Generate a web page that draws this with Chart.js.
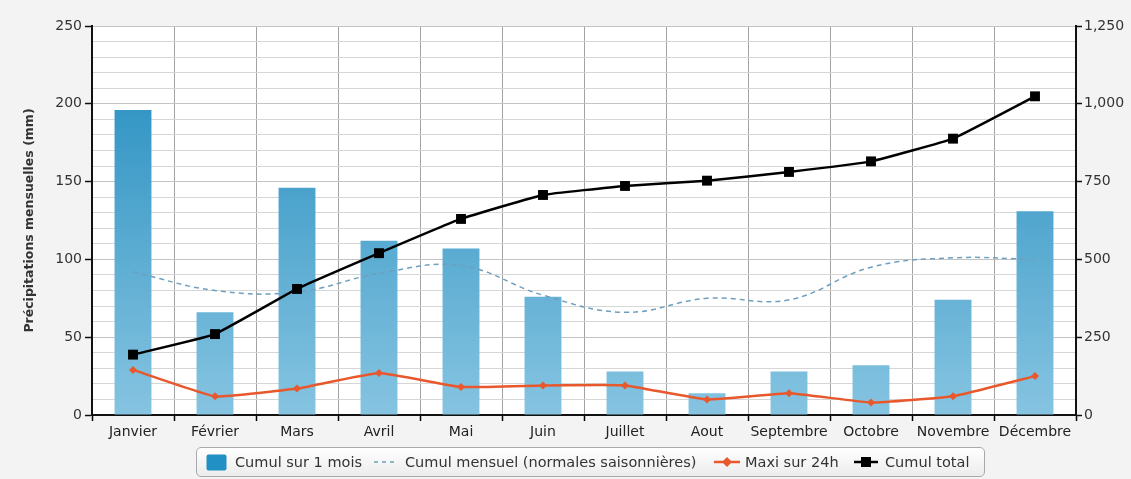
<!DOCTYPE html>
<html lang="fr">
<head>
<meta charset="utf-8">
<title>Précipitations mensuelles</title>
<script src="https://cdn.jsdelivr.net/npm/chart.js@4.4.1/dist/chart.umd.min.js"></script>
<style>
  html, body { margin: 0; padding: 0; background: #f3f3f3; }
  #wrap { position: relative; width: 1131px; height: 479px; overflow: hidden; }
  #chart { position: absolute; left: 0; top: 0; }
  #legend {
    position: absolute; left: 196px; top: 447px; width: 789px; height: 30px;
    box-sizing: border-box; border: 1px solid #a9a9a9; border-radius: 5px;
    background: linear-gradient(#ffffff, #ececec);
    font-family: "DejaVu Sans", sans-serif; font-size: 14.5px; color: #333;
    white-space: nowrap;
  }
  .sym, .txt { position: absolute; top: 0; height: 28px; display: flex; align-items: center; }
</style>
</head>
<body>
<div id="wrap">
  <canvas id="chart" width="1131" height="479"></canvas>
  <div id="legend"></div>
</div>
<script>
// Monthly rainfall (mm)
const months = ['Janvier', 'Février', 'Mars', 'Avril', 'Mai', 'Juin', 'Juillet', 'Aout', 'Septembre', 'Octobre', 'Novembre', 'Décembre'];
const cumulMois = [196, 66, 146, 112, 107, 76, 28, 14, 28, 32, 74, 131];
const normales = [92, 80, 79, 91, 96, 77, 66, 75, 74, 95, 101, 100];
const maxi24h = [29, 12, 17, 27, 18, 19, 19, 10, 14, 8, 12, 25];
const cumulTotal = [194, 260, 405, 520, 630, 707, 736, 753, 781, 815, 888, 1024];

const leftTicks = [0, 50, 100, 150, 200, 250];
const rightTicks = [0, 250, 500, 750, 1000, 1250];

const FONT = '"DejaVu Sans", sans-serif';
const BLUE_DARK = '#1f8abd';
const BLUE_LIGHT = '#86c4e1';
const DASH_COLOR = '#6f9fbf';
const ORANGE = '#e8582c';

function barGradient(ctx) {
  const area = ctx.chart.chartArea;
  if (!area) return BLUE_DARK;
  const g = ctx.chart.ctx.createLinearGradient(0, area.top, 0, area.bottom);
  g.addColorStop(0, BLUE_DARK);
  g.addColorStop(1, BLUE_LIGHT);
  return g;
}

const plotBackground = {
  id: 'plotBackground',
  beforeDraw(chart) {
    const { ctx, chartArea: a } = chart;
    ctx.save();
    ctx.fillStyle = '#ffffff';
    ctx.fillRect(a.left, a.top, a.right - a.left, a.bottom - a.top);
    ctx.restore();
  }
};

const chart = new Chart(document.getElementById('chart'), {
  data: {
    labels: months,
    datasets: [
      {
        type: 'bar', label: 'Cumul sur 1 mois', data: cumulMois, yAxisID: 'y',
        backgroundColor: barGradient, borderWidth: 0,
        barPercentage: 0.45, categoryPercentage: 1, order: 4
      },
      {
        type: 'line', label: 'Cumul mensuel (normales saisonnières)', data: normales, yAxisID: 'y',
        borderColor: DASH_COLOR, borderWidth: 1.5, borderDash: [5, 4],
        pointRadius: 0, tension: 0.4, fill: false, order: 3
      },
      {
        type: 'line', label: 'Maxi sur 24h', data: maxi24h, yAxisID: 'y',
        borderColor: ORANGE, backgroundColor: ORANGE, borderWidth: 2.5,
        pointStyle: 'rectRot', pointRadius: 4, pointBorderWidth: 0,
        tension: 0.1, fill: false, order: 2
      },
      {
        type: 'line', label: 'Cumul total', data: cumulTotal, yAxisID: 'y2',
        borderColor: '#000', backgroundColor: '#000', borderWidth: 2.5,
        pointStyle: 'rect', pointRadius: 7, pointBorderWidth: 0,
        tension: 0.1, fill: false, order: 1
      }
    ]
  },
  options: {
    responsive: false,
    animation: false,
    layout: { padding: { left: 22, top: 26, right: 0, bottom: 0 } },
    plugins: { legend: { display: false }, tooltip: { enabled: false } },
    scales: {
      x: {
        offset: true,
        grid: { offset: true, color: '#a3a3a3', lineWidth: 1, tickColor: '#000', tickLength: 6, tickWidth: 1.5 },
        border: { display: true, color: '#111', width: 2 },
        ticks: { color: '#222', font: { family: FONT, size: 14 }, padding: 3, maxRotation: 0, autoSkip: false },
        afterFit(s) { s.height = 64; }
      },
      y: {
        position: 'left', min: 0, max: 250,
        grid: {
          color: (c) => (c.tick && c.tick.value % 50 === 0 ? '#c4c4c4' : '#d6d6d6'),
          tickColor: (c) => (c.tick && leftTicks.includes(c.tick.value) ? '#111' : 'rgba(0,0,0,0)'),
          tickLength: 7, tickWidth: 1.5
        },
        border: { display: true, color: '#111', width: 2 },
        ticks: {
          stepSize: 10, autoSkip: false, color: '#333', padding: 3,
          font: { family: FONT, size: 14 },
          callback: (v) => (leftTicks.includes(v) ? String(v) : '')
        },
        title: {
          display: true, text: 'Précipitations mensuelles (mm)', color: '#333',
          font: { family: FONT, size: 12.5, weight: 'bold' }, padding: { top: 0, bottom: 0 }
        },
        afterFit(s) { s.width = 70; }
      },
      y2: {
        position: 'right', min: 0, max: 1250,
        grid: { drawOnChartArea: false, tickColor: '#111', tickLength: 6, tickWidth: 1.5 },
        border: { display: true, color: '#111', width: 2 },
        ticks: {
          stepSize: 250, autoSkip: false, color: '#333', padding: 2,
          font: { family: FONT, size: 14 },
          callback: (v) => (rightTicks.includes(v) ? Number(v).toLocaleString('en-US') : '')
        },
        afterFit(s) { s.width = 55; }
      }
    }
  },
  plugins: [plotBackground]
});

// Legend built from the datasets' own labels
const legendSymbols = [
  '<svg width="21" height="17"><rect x="0.5" y="0.5" width="20" height="16" rx="2" fill="#2190c4"/></svg>',
  '<svg width="22" height="10"><line x1="0" y1="5" x2="22" y2="5" stroke="' + DASH_COLOR + '" stroke-width="1.5" stroke-dasharray="4 4"/></svg>',
  '<svg width="26" height="10"><line x1="0" y1="5" x2="26" y2="5" stroke="' + ORANGE + '" stroke-width="2.5"/><rect x="9.5" y="1.5" width="7" height="7" fill="' + ORANGE + '" transform="rotate(45 13 5)"/></svg>',
  '<svg width="24" height="12"><line x1="0" y1="6" x2="24" y2="6" stroke="#000" stroke-width="2.5"/><rect x="7" y="1" width="10" height="10" fill="#000"/></svg>'
];
// symbol / text offsets inside the legend box
const legendSymX = [9, 177, 517, 657];
const legendTxtX = [38, 208, 548, 688];
const legend = document.getElementById('legend');
chart.data.datasets.forEach((ds, i) => {
  const sym = document.createElement('div');
  sym.className = 'sym';
  sym.style.left = legendSymX[i] + 'px';
  sym.innerHTML = legendSymbols[i];
  const txt = document.createElement('div');
  txt.className = 'txt';
  txt.style.left = legendTxtX[i] + 'px';
  txt.textContent = ds.label;
  legend.appendChild(sym);
  legend.appendChild(txt);
});
</script>
</body>
</html>
